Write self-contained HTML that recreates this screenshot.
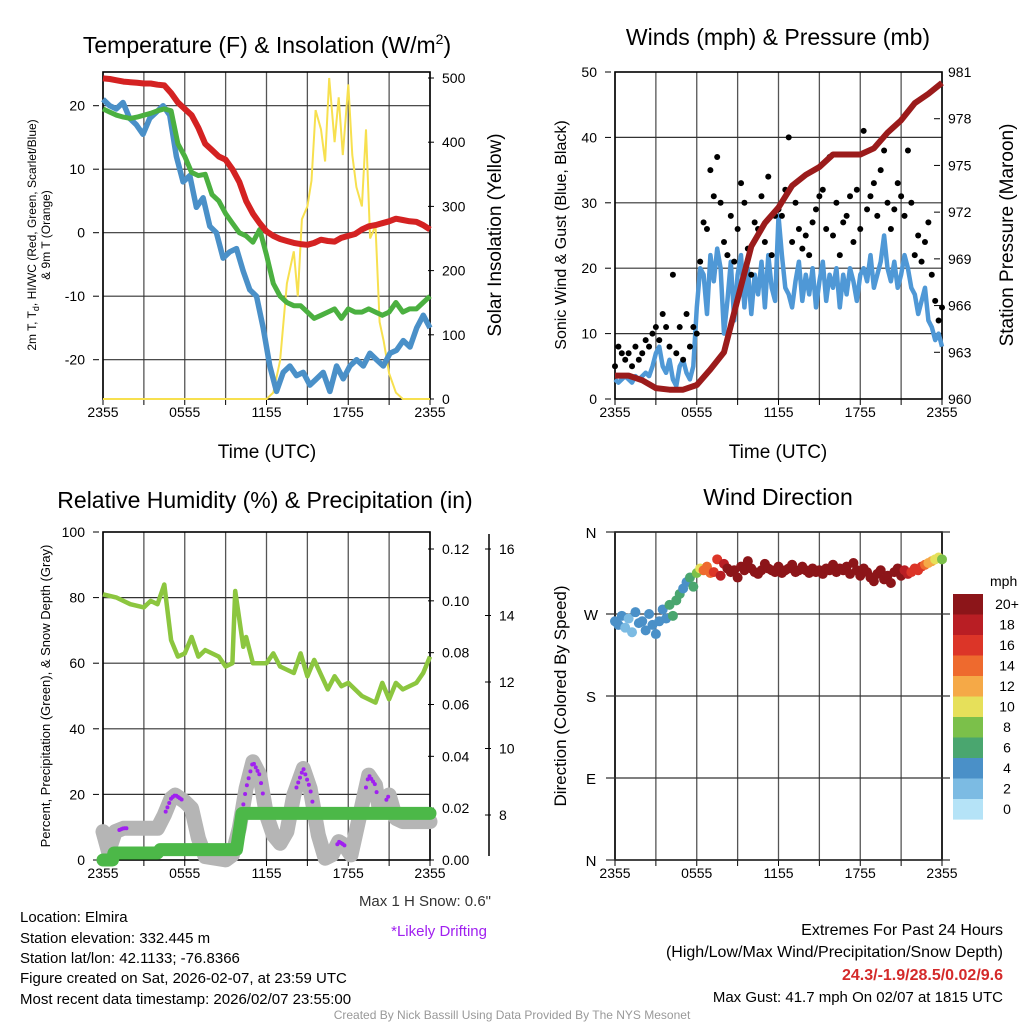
<!DOCTYPE html>
<html><head><meta charset="utf-8"><style>
body{margin:0;background:#fff;}
svg{display:block;font-family:"Liberation Sans",sans-serif;}
text{fill:#000;}
</style></head><body>
<svg id="fig" width="1024" height="1024" viewBox="0 0 1024 1024">
<g id="static">
<text x="267" y="53" font-size="23" text-anchor="middle">Temperature (F) &amp; Insolation (W/m<tspan dy="-9" font-size="14">2</tspan><tspan dy="9">)</tspan></text>
<text x="778" y="45" font-size="23" text-anchor="middle">Winds (mph) &amp; Pressure (mb)</text>
<text x="265" y="508" font-size="23" text-anchor="middle">Relative Humidity (%) &amp; Precipitation (in)</text>
<text x="778" y="505" font-size="23" text-anchor="middle">Wind Direction</text>
<text x="267" y="458" font-size="19" text-anchor="middle">Time (UTC)</text>
<text x="778" y="458" font-size="19" text-anchor="middle">Time (UTC)</text>
<text transform="translate(36,235) rotate(-90)" font-size="12" text-anchor="middle">2m T, T<tspan dy="3" font-size="9">d</tspan><tspan dy="-3">, HI/WC (Red, Green, Scarlet/Blue)</tspan></text>
<text transform="translate(50,235) rotate(-90)" font-size="12" text-anchor="middle">&amp; 9m T (Orange)</text>
<text transform="translate(501,235) rotate(-90)" font-size="19" text-anchor="middle">Solar Insolation (Yellow)</text>
<text transform="translate(566,235) rotate(-90)" font-size="16" text-anchor="middle">Sonic Wind &amp; Gust (Blue, Black)</text>
<text transform="translate(1013,235) rotate(-90)" font-size="19" text-anchor="middle">Station Pressure (Maroon)</text>
<text transform="translate(50,696) rotate(-90)" font-size="13" text-anchor="middle">Percent, Precipitation (Green), &amp; Snow Depth (Gray)</text>
<text transform="translate(566,696) rotate(-90)" font-size="17" text-anchor="middle">Direction (Colored By Speed)</text>
<text x="491" y="906" font-size="15" text-anchor="end" style="fill:#333">Max 1 H Snow: 0.6"</text>
<text x="487" y="936" font-size="15" text-anchor="end" style="fill:#a020f0">*Likely Drifting</text>
<g font-size="15">
<text x="20" y="922">Location: Elmira</text>
<text x="20" y="943">Station elevation: 332.445 m</text>
<text x="20" y="963">Station lat/lon: 42.1133; -76.8366</text>
<text x="20" y="983">Figure created on Sat, 2026-02-07, at 23:59 UTC</text>
<text x="20" y="1004">Most recent data timestamp: 2026/02/07 23:55:00</text>
</g>
<g font-size="16" text-anchor="end">
<text x="1003" y="935">Extremes For Past 24 Hours</text>
<text x="1003" y="957">(High/Low/Max Wind/Precipitation/Snow Depth)</text>
<text x="1003" y="980" font-weight="bold" style="fill:#d42a2a">24.3/-1.9/28.5/0.02/9.6</text>
<text x="1003" y="1002" font-size="15">Max Gust: 41.7 mph On 02/07 at 1815 UTC</text>
</g>
<text x="512" y="1019" font-size="12" text-anchor="middle" style="fill:#999">Created By Nick Bassill Using Data Provided By The NYS Mesonet</text>
</g>
</svg>
<script>
// ---- Panel 1 data (hours 0..24 evenly spaced) ----
var tempT=[24.3,24.2,24,23.8,23.7,23.6,23.5,23.5,23.3,23.2,22,20.5,19.5,18.5,16.5,14,13,12,11.5,10,8,5,3,1.5,0.2,-0.5,-1,-1.3,-1.6,-1.8,-1.9,-1.6,-1.1,-1.3,-1.4,-0.8,-0.5,-0.2,0.5,1,1.2,1.5,1.8,2.2,2,1.8,1.7,1.2,0.5];
var tempTd=[19.5,19,18.5,18.2,18,18.2,18.5,18.8,19.2,19.5,19.2,14,12,9.5,9,9.2,6,5,3,1.5,0,-0.5,-1.5,0.5,-3.5,-8,-10,-11,-11.5,-11.5,-12.5,-13.5,-13,-12.5,-12,-13.5,-12,-12.5,-12.5,-12,-12.5,-13,-12.5,-11,-12.5,-12,-12,-11,-10];
var tempWC=[21,20,19.5,20.5,18,17,15.5,18,19,20,18.5,12,8,9,4,5.5,1,0,-4,-3,-2.5,-6,-9,-10,-15,-21,-25,-22,-21,-22.5,-22,-24,-23,-22,-25,-21,-23,-21,-20,-21,-19,-20,-21,-19,-18.5,-17,-18,-15,-13,-15];
var solarT=[0,12,12.5,13,13.5,14,14.3,14.6,15,15.3,15.6,16,16.3,16.6,17,17.3,17.6,18,18.3,18.6,19,19.3,19.6,20,20.3,20.6,21,21.5,22,24];
var solarV=[0,0,10,60,180,230,160,280,300,340,450,420,370,500,400,470,380,490,380,330,300,420,250,270,120,90,40,10,0,0];
// ---- Panel 2 data ----
var windV=[3,2.5,3,3.5,3,2.5,3.5,3,3.5,4,3.5,5,7,8,5,4,6,3,2,5,6,4,3,5,14,20,19,13,22,18,23,20,10,15,21,12,19,22,14,20,13,19,16,21,14,22,17,15,28,22,17,16,14,18,21,15,19,16,20,14,18,21,15,19,17,20,14,19,16,20,18,15,19,20,18,22,17,19,21,25,20,18,21,17,19,22,20,17,16,13,15,17,12,11,9,10,8];
var gustV=[5,8,7,6,7,5,8,6,7,9,8,10,11,9,13,11,8,19,7,11,6,13,8,11,10,21,27,26,35,31,37,30,24,22,28,21,26,33,30,23,19,27,26,31,24,34,22,28,29,28,32,40,24,30,26,23,25,22,27,29,31,32,26,37,25,30,22,27,28,31,24,32,26,41,29,31,33,28,35,38,30,26,29,33,31,28,38,30,22,25,21,24,27,19,15,12,14];
var pressV=[961.5,961.5,961.2,960.7,960.6,960.6,960.9,961.9,963,966.4,969.8,971.3,972.3,973.7,974.4,974.9,975.7,975.7,975.7,976.1,977.1,977.9,979,979.6,980.3];
// ---- Panel 3 data ----
var rhT=[0,1,2,3,3.5,4,4.5,5,5.5,6,6.5,7,7.5,8.5,9,9.5,9.7,10.3,10.5,11,12,12.5,13,14,14.5,15,15.5,16.5,17,17.5,18,19,20,20.5,21,21.5,22,23,23.5,24];
var rhV=[81,80,78,77,79,78,84,67,62,63,68,62,64,62,59,60,82,65,68,60,60,63,59,57,63,56,61,52,56,53,54,50,48,54,49,54,52,54,57,62];
var snowT=[0,0.4,0.9,1.5,4,4.5,5,5.3,6,6.5,7,7.5,9,9.5,10,10.5,11,11.5,12,12.5,13,13.5,14,14.7,15.2,15.8,16.3,16.8,17.3,17.7,18.2,18.8,19.5,20,20.3,21,21.5,22,24];
var snowV=[7.5,6.9,7.5,7.6,7.6,8.0,8.5,8.6,8.4,8.2,7.3,6.75,6.65,6.8,7.6,8.8,9.6,9.2,8.0,7.4,7.15,7.5,8.6,9.4,8.8,7.4,6.7,6.8,7.2,7.1,6.8,7.9,9.2,8.9,8.1,8.6,7.9,7.8,7.8];
var driftStart=[1.2,4.6,10.3,14.2,17.2,19.3,20.8];
var driftEnd=[1.8,5.8,11.8,15.4,17.8,20.2,21.0];
var precipT=[0,0.7,0.8,4,4.2,9.8,10.2,24];
var precipV=[0,0,0.0027,0.0027,0.004,0.004,0.018,0.018];
// ---- Panel 4 data ----
var dirV=[262,258,268,255,265,250,272,260,262,252,270,258,248,262,275,265,280,268,285,292,298,305,310,300,315,320,318,322,315,316,330,312,325,320,316,318,310,322,318,328,320,316,314,318,325,320,318,316,322,315,318,320,324,316,318,322,318,315,320,316,318,314,320,318,324,316,320,318,322,314,326,318,312,320,316,310,306,314,318,308,312,304,316,320,312,318,314,316,320,318,322,324,326,328,330,332,330];
var dirSpeed=[3,3,2,3,4,3,4,3,5,6,4,5,8,13,14,16,18,20,22,19,20,21,20,22,21,20,22,19,21,20,22,21,20,19,21,22,20,21,20,22,21,20,19,17,16,15,12,10,8];
var speedLevels=["0","2","4","6","8","10","12","14","16","18","20+"];
var speedColors=["#b5e3f7","#7cbbe3","#4a90c8","#4aa66f","#7bc04a","#e6e05a","#f5a947","#ee6a2e","#dc3528","#b91e24","#8c1519"];
var timeLabels=["2355","0555","1155","1755","2355"];

var NS="http://www.w3.org/2000/svg";
var svg=document.getElementById('fig');
function mk(tag,attrs,parent){var e=document.createElementNS(NS,tag);for(var k in attrs)e.setAttribute(k,attrs[k]);(parent||svg).appendChild(e);return e;}
function lin(d0,d1,r0,r1){return function(v){return r0+(v-d0)/(d1-d0)*(r1-r0);};}
function evenT(arr){return arr.map(function(_,i){return i/(arr.length-1)*24;});}
function interp(ts,vs,t){for(var i=1;i<ts.length;i++){if(t<=ts[i]){var f=(t-ts[i-1])/((ts[i]-ts[i-1])||1);return vs[i-1]+f*(vs[i]-vs[i-1]);}}return vs[vs.length-1];}
function path(ts,vs,X,Y){return ts.map(function(t,i){return (i?'L':'M')+X(t).toFixed(1)+','+Y(vs[i]).toFixed(1);}).join('');}

function frame(L,R,T,B,name,hlines,xTicks){
  var g=mk('g',{});
  
  
  var X=lin(0,24,L,R);
  for(var h=0;h<=24;h+=3){
    var gl=mk('line',{x1:X(h),x2:X(h),y1:T,y2:B,stroke:'#555','stroke-width':1.3},g);
    
    
    mk('line',{x1:X(h),x2:X(h),y1:B,y2:B+6,stroke:'#000','stroke-width':1},g);
  }
  hlines.forEach(function(y){
    var hl=mk('line',{x1:L,x2:R,y1:y,y2:y,stroke:'#333','stroke-width':1.2},g);
    
    
  });
  mk('rect',{x:L,y:T,width:R-L,height:B-T,fill:'none',stroke:'#000','stroke-width':1.6},g);
  if(xTicks){timeLabels.forEach(function(s,i){
    var t=mk('text',{x:X(i*6),y:B+18,'font-size':14,'text-anchor':'middle'},g);t.textContent=s;
    
    
  });}
  return X;
}
function yTicks(vals,Y,x,anchor,fmt,side,name){
  vals.forEach(function(v){
    var y=Y(v);
    mk('line',{x1:side<0?x+8:x-8,x2:side<0?x+14:x-14,y1:y,y2:y,stroke:'#000'});
    var t=mk('text',{x:x,y:y+5,'font-size':14,'text-anchor':anchor});
    t.textContent=fmt(v);
    
    
  });
}

// ===== Panel 1 =====
(function(){
  var L=103,R=430,T=72,B=399;
  var Y=lin(0,20,232.7,105.7), Ys=lin(0,500,399,78);
  var X=frame(L,R,T,B,'temp',[20,10,0,-10,-20].map(Y),true);
  yTicks([20,10,0,-10,-20],Y,85,'end',function(v){return v;},-1,'temp-y-tick');
  yTicks([0,100,200,300,400,500],Ys,442,'start',function(v){return v;},1,'solar-y-tick');
  var e;
  e=mk('path',{d:path(solarT,solarV,X,Ys),fill:'none',stroke:'#f7e04f','stroke-width':2});
  
  
  e=mk('path',{d:path(evenT(tempWC),tempWC,X,Y),fill:'none',stroke:'#4a90c8','stroke-width':5.5,'stroke-linejoin':'round'});
  
  
  e=mk('path',{d:path(evenT(tempTd),tempTd,X,Y),fill:'none',stroke:'#4bb040','stroke-width':5,'stroke-linejoin':'round'});
  
  
  e=mk('path',{d:path(evenT(tempT),tempT,X,Y),fill:'none',stroke:'#d42222','stroke-width':6,'stroke-linejoin':'round'});
  
  
})();

// ===== Panel 2 =====
(function(){
  var L=615,R=942,T=72,B=399;
  var Y=lin(0,50,399,72), Yp=lin(960,981,399,72);
  var X=frame(L,R,T,B,'wind',[10,20,30,40].map(Y),true);
  yTicks([0,10,20,30,40,50],Y,597,'end',function(v){return v;},-1,'wind-y-tick');
  yTicks([960,963,966,969,972,975,978,981],Yp,948,'start',function(v){return v;},1,'pressure-y-tick');
  var e=mk('path',{d:path(evenT(windV),windV,X,Y),fill:'none',stroke:'#4f98d6','stroke-width':4.5,'stroke-linejoin':'round'});
  
  
  var gt=evenT(gustV);
  gustV.forEach(function(v,i){
    var c=mk('circle',{cx:X(gt[i]),cy:Y(v),r:3,fill:'#000'});
    
    
  });
  e=mk('path',{d:path(evenT(pressV),pressV,X,Yp),fill:'none',stroke:'#9b1b1b','stroke-width':6,'stroke-linejoin':'round'});
  
  
})();

// ===== Panel 3 =====
(function(){
  var L=103,R=430,T=532,B=860;
  var Y=lin(0,100,860,532), Yr=lin(0,0.12,860,549), Ysn=lin(8,16,815,549);
  var X=frame(L,R,T,B,'rh',[20,40,60,80].map(Y),true);
  yTicks([0,20,40,60,80,100],Y,85,'end',function(v){return v;},-1,'rh-y-tick');
  yTicks([0,0.02,0.04,0.06,0.08,0.1,0.12],Yr,442,'start',function(v){return v.toFixed(2);},1,'precip-y-tick');
  mk('line',{x1:489,x2:489,y1:534,y2:856,stroke:'#000','stroke-width':1.5});
  yTicks([8,10,12,14,16],Ysn,499,'start',function(v){return v;},1,'snow-y-tick');
  var e=mk('path',{d:path(snowT,snowV,X,Ysn),fill:'none',stroke:'#b5b5b5','stroke-width':15,'stroke-linejoin':'round','stroke-linecap':'round'});
  
  
  driftStart.forEach(function(s,k){
    for(var t=s;t<=driftEnd[k]+1e-6;t+=0.13){
      var c=mk('circle',{cx:X(t),cy:Ysn(interp(snowT,snowV,t)),r:2,fill:'#a020f0'});
      
      
    }
  });
  e=mk('path',{d:path(precipT,precipV,X,Yr),fill:'none',stroke:'#4cb848','stroke-width':13,'stroke-linejoin':'round','stroke-linecap':'round'});
  
  
  e=mk('path',{d:path(rhT,rhV,X,Y),fill:'none',stroke:'#8cc63f','stroke-width':4.5,'stroke-linejoin':'round'});
  
  
})();

// ===== Panel 4 =====
(function(){
  var L=615,R=942,T=532,B=860;
  var Y=lin(0,360,860,532);
  var X=frame(L,R,T,B,'dir',[],true);
  var labs=['N','E','S','W','N'];
  [0,90,180,270,360].forEach(function(d,i){
    mk('line',{x1:606,x2:950,y1:Y(d),y2:Y(d),stroke:'#333','stroke-width':1.2});
    var t=mk('text',{x:591,y:Y(d)+6,'font-size':15,'text-anchor':'middle'});t.textContent=labs[i];
    
    
  });
  var dt=evenT(dirV), st=evenT(dirSpeed);
  dirV.forEach(function(d,i){
    var s=interp(st,dirSpeed,dt[i]);
    var k=Math.min(10,Math.max(0,Math.round(s/2)));
    var c=mk('circle',{cx:X(dt[i]),cy:Y(d),r:5,fill:speedColors[k]});
    
    
  });
  var lg=mk('g',{});
  
  
  var t0=mk('text',{x:990,y:586,'font-size':14},lg);t0.textContent='mph';
  for(var i=0;i<11;i++){
    var k=10-i, y=594+i*20.5;
    var r=mk('rect',{x:953,y:y,width:30,height:20.6,fill:speedColors[k]},lg);
    
    
    var t=mk('text',{x:1007,y:y+15,'font-size':14,'text-anchor':'middle'},lg);t.textContent=speedLevels[k];
    
    
  }
})();
</script>
</body></html>
